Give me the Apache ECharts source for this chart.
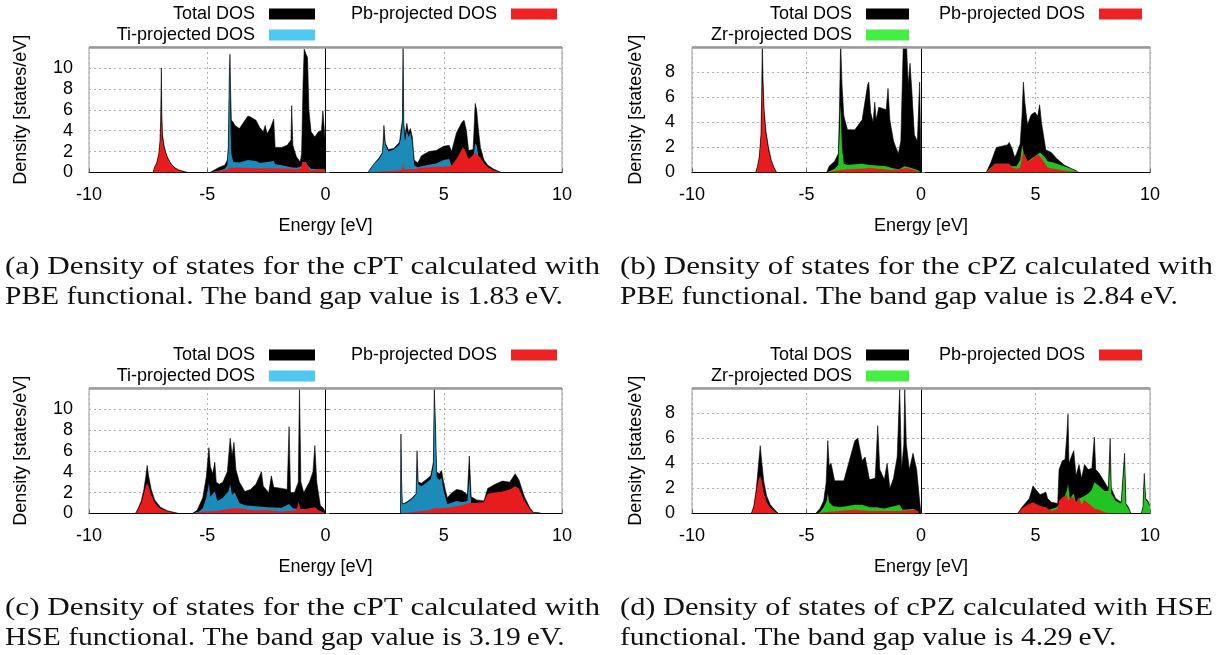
<!doctype html>
<html>
<head>
<meta charset="utf-8">
<script src="https://cdn.jsdelivr.net/npm/echarts@6/dist/echarts.min.js"></script>
<style>
    html, body {margin: 0; padding: 0; background: #fff;}
    #main {width: 1220px; height: 655px;}
</style>
</head>
<body>
<div id="main"></div>
<script>
    // energy [eV] / density [states/eV]
    var xTicks = [-10, -5, 0, 5, 10];

    // (a) cPT, PBE
    var aTotal = [[-7.29,0],[-7.23,0.5],[-7.14,0.9],[-7.05,1.8],[-7.00,3.0],[-6.97,5.0],[-6.95,8.5],[-6.94,10.0],[-6.92,5.5],[-6.89,3.6],[-6.83,2.6],[-6.75,1.9],[-6.67,1.4],[-6.52,0.8],[-6.36,0.45],[-6.21,0.25],[-5.97,0.1],[-5.82,0],
        [-4.88,0],[-4.73,0.2],[-4.49,0.5],[-4.26,0.7],[-4.15,1.2],[-4.11,2.5],[-4.07,9.0],[-4.04,11.3],[-4.01,7.5],[-3.98,5.0],[-3.90,4.8],[-3.83,4.5],[-3.64,4.2],[-3.28,5.4],[-3.17,5.3],[-2.94,5.0],[-2.78,4.3],[-2.63,3.9],[-2.55,4.5],[-2.47,3.7],[-2.32,4.3],[-2.19,5.1],[-2.13,2.4],[-1.85,2.4],[-1.62,2.6],[-1.46,3.1],[-1.43,6.4],[-1.38,2.6],[-1.23,1.5],[-1.07,1.0],[-1.01,1.8],[-0.95,8.5],[-0.90,11.8],[-0.82,11.3],[-0.76,11.0],[-0.70,5.9],[-0.61,3.9],[-0.45,3.4],[-0.30,3.9],[-0.17,4.0],[-0.11,5.9],[-0.05,5.8],[-0.02,3.2],[0,0],
        [1.80,0],[1.88,0.3],[2.04,0.8],[2.27,1.4],[2.40,1.9],[2.44,3.0],[2.47,4.5],[2.53,2.8],[2.66,2.2],[2.89,2.3],[3.13,2.9],[3.20,4.2],[3.25,5.0],[3.28,12],[3.31,4.8],[3.36,3.5],[3.44,4.7],[3.51,3.8],[3.59,4.2],[3.67,3.4],[3.72,2.0],[3.75,1.2],[3.90,0.9],[4.06,1.6],[4.37,2.0],[4.68,2.1],[4.99,2.5],[5.23,2.6],[5.33,2.0],[5.54,3.8],[5.77,4.8],[5.86,5.0],[5.96,4.0],[6.05,2.1],[6.24,2.2],[6.28,4.0],[6.33,6.6],[6.39,6.0],[6.47,4.0],[6.55,2.4],[6.70,1.2],[6.86,0.7],[7.09,0.35],[7.33,0.1],[7.45,0]];
    var aTi = [[-4.88,0],[-4.49,0.2],[-4.26,0.35],[-4.15,0.7],[-4.11,2.0],[-4.07,9.0],[-4.04,10.5],[-4.01,4.0],[-3.98,1.8],[-3.90,1.0],[-3.64,0.95],[-3.28,1.2],[-2.94,1.1],[-2.78,0.9],[-2.47,1.0],[-2.19,1.1],[-2.13,0.8],[-1.85,0.7],[-1.46,0.5],[-1.23,0.45],[-1.01,0.6],[-0.90,0.8],[-0.76,0.7],[-0.61,0.35],[-0.30,0.3],[-0.05,0.3],[0,0],
        [1.80,0],[1.88,0.3],[2.04,0.8],[2.27,1.3],[2.40,1.8],[2.44,2.5],[2.47,3.5],[2.53,2.6],[2.66,2.0],[2.89,2.2],[3.13,2.7],[3.20,3.5],[3.25,4.5],[3.28,12],[3.31,4.2],[3.36,3.0],[3.44,4.0],[3.51,3.4],[3.59,3.8],[3.67,2.8],[3.72,1.5],[3.75,0.7],[3.90,0.5],[4.06,0.6],[4.37,0.75],[4.68,0.85],[4.99,1.2],[5.23,1.3],[5.33,0.6],[5.54,0.6],[5.77,0.8],[6.05,0.9],[6.24,1.2],[6.33,2.8],[6.39,2.6],[6.47,1.5],[6.55,0.9],[6.70,0.5],[7.09,0.15],[7.45,0]];
    var aPb = [[-7.29,0],[-7.23,0.5],[-7.14,0.9],[-7.05,1.7],[-7.00,2.7],[-6.97,4.0],[-6.95,4.5],[-6.94,6.6],[-6.92,4.5],[-6.89,3.2],[-6.83,2.4],[-6.75,1.8],[-6.67,1.3],[-6.52,0.75],[-6.36,0.4],[-6.21,0.2],[-5.97,0.08],[-5.82,0],
        [-4.88,0],[-4.49,0.15],[-4.15,0.3],[-4.01,0.45],[-3.56,0.45],[-2.78,0.4],[-2.16,0.4],[-1.54,0.35],[-1.23,0.3],[-1.04,0.4],[-0.98,1.0],[-0.82,1.0],[-0.73,0.5],[-0.61,0.2],[-0.14,0.35],[0,0],
        [1.80,0],[2.35,0.1],[3.13,0.2],[3.25,0.3],[3.28,1.0],[3.31,0.3],[3.75,0.3],[4.06,0.45],[4.37,0.5],[4.68,0.55],[4.99,0.55],[5.23,0.6],[5.38,0.8],[5.54,1.3],[5.69,1.9],[5.80,2.4],[5.89,2.2],[5.99,1.6],[6.05,1.3],[6.21,1.6],[6.31,1.9],[6.39,1.8],[6.47,1.6],[6.55,1.4],[6.70,0.9],[6.86,0.5],[7.09,0.25],[7.33,0.08],[7.45,0]];

    // (b) cPZ, PBE
    var bTotal = [[-7.22,0],[-7.14,0.5],[-7.06,1.3],[-6.99,3.0],[-6.96,6.0],[-6.93,10.5],[-6.90,7.5],[-6.85,5.0],[-6.77,3.3],[-6.66,2.0],[-6.54,1.0],[-6.42,0.4],[-6.30,0],
        [-4.12,0],[-4.01,0.5],[-3.77,0.9],[-3.61,1.5],[-3.56,5.0],[-3.51,10.5],[-3.45,7.0],[-3.37,4.5],[-3.21,3.4],[-2.89,3.4],[-2.57,4.2],[-2.33,7.0],[-2.28,7.2],[-2.20,4.8],[-2.09,4.0],[-2.02,5.6],[-1.96,4.2],[-1.84,5.2],[-1.68,5.1],[-1.52,5.0],[-1.44,6.7],[-1.36,4.2],[-1.20,2.5],[-0.99,1.5],[-0.88,2.5],[-0.77,10.5],[-0.64,10.5],[-0.56,7.0],[-0.48,8.7],[-0.40,6.5],[-0.29,3.0],[-0.16,2.5],[-0.06,7.2],[-0.02,3.0],[0,0],
        [2.85,0],[3.05,0.8],[3.29,2.0],[3.53,2.1],[3.77,2.2],[3.85,2.4],[3.98,1.9],[4.09,1.2],[4.17,1.5],[4.33,2.3],[4.41,4.5],[4.47,7.2],[4.54,5.5],[4.65,3.8],[4.81,4.6],[4.97,4.8],[5.10,4.5],[5.18,5.4],[5.26,4.0],[5.45,1.8],[5.69,1.6],[5.93,1.1],[6.25,0.6],[6.58,0.3],[6.82,0.1],[6.90,0]];
    var bZr = [[-4.12,0],[-3.77,0.3],[-3.61,0.6],[-3.56,3.0],[-3.51,5.5],[-3.45,2.0],[-3.37,0.7],[-3.21,0.6],[-2.89,0.65],[-2.57,0.7],[-2.25,0.6],[-1.92,0.55],[-1.52,0.5],[-1.28,0.35],[-0.96,0.25],[-0.72,0.5],[-0.48,0.4],[-0.16,0.2],[0,0],
        [2.85,0],[3.05,0.4],[3.29,0.7],[3.77,0.7],[3.98,0.5],[4.17,0.5],[4.33,1.0],[4.42,2.2],[4.49,1.5],[4.65,0.9],[4.97,1.3],[5.20,1.6],[5.37,1.3],[5.53,0.9],[5.77,0.8],[6.25,0.5],[6.58,0.3],[6.82,0.1],[6.90,0]];
    var bPb = [[-7.22,0],[-7.14,0.45],[-7.06,1.2],[-6.99,2.8],[-6.96,5.0],[-6.93,7.0],[-6.90,7.4],[-6.85,4.6],[-6.77,3.0],[-6.66,1.8],[-6.54,0.9],[-6.42,0.35],[-6.30,0],
        [-4.12,0],[-3.85,0.1],[-3.53,0.2],[-3.21,0.25],[-2.57,0.3],[-2.25,0.35],[-1.92,0.3],[-1.28,0.2],[-0.80,0.3],[-0.64,0.35],[-0.40,0.25],[-0.16,0.1],[0,0],
        [2.85,0],[3.05,0.3],[3.21,0.7],[3.85,0.7],[3.98,0.4],[4.17,0.3],[4.33,0.4],[4.46,1.7],[4.57,1.2],[4.65,0.9],[4.81,1.0],[4.97,1.3],[5.13,1.4],[5.20,1.5],[5.32,1.0],[5.53,0.4],[5.77,0.3],[6.25,0.15],[6.82,0.03],[6.90,0]];

    // (c) cPT, HSE
    var cTotal = [[-8.04,0],[-7.92,0.5],[-7.79,1.2],[-7.68,2.3],[-7.60,3.5],[-7.54,4.6],[-7.48,3.6],[-7.37,2.3],[-7.22,1.3],[-6.98,0.6],[-6.67,0.25],[-6.28,0.05],[-6.21,0],
        [-5.63,0],[-5.43,0.3],[-5.19,1.5],[-5.04,3.5],[-4.93,6.3],[-4.87,4.5],[-4.77,3.8],[-4.68,4.9],[-4.62,3.0],[-4.49,2.8],[-4.34,3.0],[-4.15,4.0],[-4.03,7.2],[-3.95,5.5],[-3.87,6.8],[-3.79,4.2],[-3.64,3.0],[-3.41,2.1],[-3.17,2.3],[-2.94,2.8],[-2.71,4.0],[-2.63,2.6],[-2.40,2.0],[-2.29,3.6],[-2.19,2.5],[-1.85,2.4],[-1.62,2.3],[-1.54,8.3],[-1.48,2.0],[-1.31,2.0],[-1.15,3.0],[-1.10,12],[-1.04,3.0],[-0.92,2.0],[-0.68,3.0],[-0.53,4.0],[-0.45,6.5],[-0.37,3.0],[-0.22,0.8],[-0.06,0.4],[0,0],
        [3.17,0],[3.19,7.6],[3.22,3.0],[3.25,0.9],[3.44,1.1],[3.67,1.5],[3.83,1.9],[3.87,6.0],[3.92,3.0],[4.06,2.9],[4.29,3.3],[4.45,3.6],[4.56,4.9],[4.60,12],[4.65,8.5],[4.70,4.0],[4.81,3.8],[4.91,4.1],[4.99,3.0],[5.15,1.5],[5.30,1.9],[5.54,2.3],[5.77,2.2],[6.00,1.8],[6.08,5.5],[6.16,1.6],[6.39,1.3],[6.70,1.2],[6.86,2.4],[7.17,2.8],[7.48,3.1],[7.79,3.0],[8.02,3.8],[8.18,3.2],[8.41,1.6],[8.65,0.5],[8.80,0.1],[9.04,0.1],[9.11,0]];
    var cTi = [[-5.63,0],[-5.35,0.2],[-5.19,0.5],[-5.04,1.5],[-4.93,2.9],[-4.87,1.6],[-4.68,2.1],[-4.57,1.2],[-4.34,1.5],[-4.11,2.1],[-4.03,2.8],[-3.95,1.8],[-3.84,2.0],[-3.64,1.0],[-3.41,0.8],[-2.94,0.7],[-2.47,0.6],[-1.85,0.55],[-1.54,0.9],[-1.38,0.5],[-0.92,0.4],[-0.45,0.5],[-0.22,0.2],[0,0],
        [3.17,0],[3.19,7.6],[3.22,3.0],[3.25,0.9],[3.44,1.0],[3.67,1.4],[3.83,1.8],[3.87,4.5],[3.92,2.8],[4.06,2.6],[4.29,3.0],[4.45,3.3],[4.56,4.5],[4.60,12],[4.65,8.5],[4.70,3.5],[4.81,3.2],[4.91,3.4],[4.99,2.2],[5.15,0.9],[5.30,1.0],[5.54,1.2],[5.77,1.1],[6.00,1.2],[6.08,3.5],[6.16,0.9],[6.39,0.6],[6.70,0.4],[7.17,0.5],[7.79,0.5],[8.41,0.3],[8.80,0.05],[9.11,0]];
    var cPb = [[-8.04,0],[-7.92,0.4],[-7.79,1.0],[-7.68,1.9],[-7.60,2.6],[-7.54,2.9],[-7.48,2.6],[-7.37,1.8],[-7.22,1.0],[-6.98,0.45],[-6.67,0.2],[-6.28,0.03],[-6.21,0],
        [-5.63,0],[-5.19,0.2],[-4.62,0.25],[-4.03,0.45],[-3.72,0.5],[-3.09,0.3],[-2.47,0.3],[-1.85,0.2],[-1.23,0.3],[-1.14,1.1],[-1.04,0.3],[-0.68,0.5],[-0.61,0.6],[-0.45,0.6],[-0.30,0.3],[0,0],
        [3.17,0],[3.44,0.1],[3.90,0.2],[4.37,0.3],[4.60,0.5],[4.99,0.5],[5.30,0.6],[5.77,0.8],[6.08,1.0],[6.39,1.0],[6.70,1.1],[6.86,1.9],[7.17,2.0],[7.48,2.1],[7.79,2.3],[8.02,2.6],[8.18,2.4],[8.41,1.2],[8.65,0.4],[8.80,0.05],[9.11,0]];

    // (d) cPZ, HSE
    var dTotal = [[-7.41,0],[-7.30,0.6],[-7.19,2.0],[-7.09,4.0],[-7.02,5.4],[-6.96,4.2],[-6.86,2.5],[-6.74,1.4],[-6.58,0.7],[-6.34,0.2],[-6.22,0],
        [-4.60,0],[-4.41,0.4],[-4.25,1.0],[-4.14,2.5],[-4.07,5.8],[-4.01,3.8],[-3.93,4.0],[-3.77,2.6],[-3.37,2.6],[-3.13,4.2],[-2.89,5.8],[-2.76,6.0],[-2.57,4.2],[-2.44,4.5],[-2.25,2.7],[-2.00,2.8],[-1.89,7.0],[-1.80,3.5],[-1.60,2.7],[-1.48,4.0],[-1.36,2.0],[-1.20,2.8],[-1.04,4.5],[-0.93,10],[-0.85,3.5],[-0.75,5.5],[-0.71,10],[-0.64,5.5],[-0.51,3.5],[-0.35,4.8],[-0.19,3.5],[-0.06,1.0],[0,0],
        [4.22,0],[4.41,0.5],[4.73,1.2],[4.89,2.2],[4.97,2.0],[5.20,1.5],[5.45,1.7],[5.53,1.2],[5.69,0.9],[5.97,0.8],[6.03,3.5],[6.17,4.2],[6.29,4.3],[6.37,6.3],[6.42,7.9],[6.46,4.0],[6.58,4.6],[6.67,5.0],[6.77,3.0],[6.90,3.9],[7.01,2.8],[7.14,3.9],[7.30,3.5],[7.46,3.6],[7.57,6.1],[7.63,3.5],[7.78,3.2],[8.02,2.5],[8.18,2.0],[8.26,6.0],[8.31,2.0],[8.50,1.2],[8.74,0.9],[8.89,4.8],[8.95,0.8],[9.06,0.5],[9.17,0],[9.62,0],[9.69,0.5],[9.75,3.2],[9.81,1.2],[9.91,1.0],[9.97,0.7],[10,0.6]];
    var dZr = [[-4.60,0],[-4.41,0.1],[-4.25,0.5],[-4.12,1.0],[-4.07,1.6],[-4.01,0.9],[-3.85,0.6],[-3.53,0.5],[-3.21,0.6],[-2.89,0.7],[-2.57,0.7],[-2.25,0.5],[-1.92,0.5],[-1.60,0.4],[-0.93,0.7],[-0.80,0.3],[-0.32,0.35],[-0.08,0.1],[0,0],
        [4.22,0],[4.41,0.1],[4.89,0.3],[5.20,0.35],[5.61,0.3],[5.93,0.5],[6.17,1.0],[6.37,1.8],[6.42,2.4],[6.50,1.2],[6.67,1.6],[6.77,0.8],[6.90,1.2],[7.14,1.4],[7.30,1.6],[7.46,1.9],[7.57,2.5],[7.78,2.2],[8.02,1.8],[8.18,1.8],[8.26,4.5],[8.31,1.6],[8.50,1.0],[8.74,0.8],[8.89,4.3],[8.95,0.7],[9.06,0.4],[9.17,0],[9.62,0],[9.69,0.4],[9.75,3.0],[9.81,1.1],[9.91,0.9],[10,0.5]];
    var dPb = [[-7.41,0],[-7.30,0.5],[-7.19,1.7],[-7.09,2.7],[-7.02,3.0],[-6.96,2.6],[-6.86,1.6],[-6.74,0.9],[-6.58,0.45],[-6.34,0.1],[-6.22,0],
        [-4.60,0],[-4.25,0.1],[-3.85,0.15],[-3.21,0.25],[-2.89,0.3],[-2.25,0.2],[-1.60,0.2],[-0.96,0.2],[-0.48,0.25],[-0.24,0.3],[-0.08,0.1],[0,0],
        [4.22,0],[4.41,0.4],[4.65,0.7],[4.89,0.9],[5.20,0.6],[5.45,0.5],[5.69,0.2],[5.97,0.4],[6.03,1.0],[6.17,1.3],[6.37,1.5],[6.42,1.0],[6.58,1.4],[6.67,1.2],[6.77,0.9],[6.90,1.3],[7.01,0.7],[7.14,1.1],[7.30,0.8],[7.46,0.6],[7.57,0.4],[7.78,0.3],[8.02,0.1],[8.18,0.05],[8.40,0]];

    var yMaxes = [12, 10, 12, 10];

    var captionA = ['(a) Density of states for the cPT calculated with', 'PBE functional. The band gap value is 1.83\u2009eV.'];
    var captionB = ['(b) Density of states for the cPZ calculated with', 'PBE functional. The band gap value is 2.84\u2009eV.'];
    var captionC = ['(c) Density of states for the cPT calculated with', 'HSE functional. The band gap value is 3.19\u2009eV.'];
    var captionD = ['(d) Density of states of cPZ calculated with HSE', 'functional. The band gap value is 4.29\u2009eV.'];

    var SANS = '"Liberation Sans", Arial, sans-serif';
    var SERIF = 'Liberation Serif';
    var BLACK = '#000000', BLUE = '#1b8cba', RED = '#e81c1c', GREEN = '#22c322';
    var BLUE_KEY = '#4fc8f2', RED_KEY = '#ee2222', GREEN_KEY = '#44ee44';

    // panel frames: left, right(px from right edge), top
    var panels = [
        {left: 89, right: 658, top: 47, gap: 59, lab: 16},
        {left: 692, right: 70, top: 47, gap: 47, lab: 17},
        {left: 89, right: 658, top: 388, gap: 59, lab: 16},
        {left: 692, right: 70, top: 388, gap: 47, lab: 17}
    ];

    // break the area between bands so no coloured line runs along the gap
    function bands(arr) {
        var out = [];
        arr.forEach(function (p, i) {
            if (i > 0 && p[1] === 0 && arr[i - 1][1] === 0) out.push([(p[0] + arr[i - 1][0]) / 2, '-']);
            out.push(p);
        });
        return out;
    }

    var dom = document.getElementById('main');
    var myChart = echarts.init(dom, null, {renderer: 'canvas'});

    var grids = [], xAxes = [], yAxes = [];
    panels.forEach(function (p, i) {
        grids.push({left: p.left, right: p.right, top: p.top, height: 125.5,
            show: true, borderColor: '#9a9a9a', borderWidth: 1, containLabel: false});
        xAxes.push({type: 'value', gridIndex: i, min: -10, max: 10, interval: 5,
            name: 'Energy [eV]', nameLocation: 'middle', nameGap: 45,
            nameTextStyle: {fontFamily: SANS, fontSize: 18, color: '#000'},
            axisLine: {lineStyle: {color: '#000', width: 1}},
            axisTick: {inside: true, length: 4, lineStyle: {color: '#666'}},
            axisLabel: {fontFamily: SANS, fontSize: 18, color: '#000', margin: 14},
            splitLine: {show: true, lineStyle: {color: '#b0b0b0', type: [2, 3], width: 1}}
        });
        yAxes.push({type: 'value', gridIndex: i, min: 0, max: yMaxes[i], interval: 2,
            name: 'Density [states/eV]', nameLocation: 'middle', nameGap: p.gap,
            nameTextStyle: {fontFamily: SANS, fontSize: 18, color: '#000'},
            axisLine: {show: true, lineStyle: {color: '#777'}},
            axisTick: {inside: true, length: 4, lineStyle: {color: '#777'}},
            axisLabel: {fontFamily: SANS, fontSize: 18, color: '#000', margin: p.lab, showMaxLabel: false},
            splitLine: {show: true, lineStyle: {color: '#b0b0b0', type: [2, 3], width: 1}}
        });
    });

    function area(name, data, color, idx, extra) {
        var s = {type: 'line', name: name, data: bands(data), xAxisIndex: idx, yAxisIndex: idx,
            symbol: 'none', showSymbol: false, silent: true, clip: true, connectNulls: false,
            lineStyle: {width: color === BLACK ? 0.6 : 0, color: color}, itemStyle: {color: color},
            areaStyle: {color: color, opacity: 1}};
        if (extra) {
            s.markLine = {silent: true, symbol: 'none', label: {show: false}, animation: false,
                data: [
                    {xAxis: 0, lineStyle: {color: '#000', width: 1, type: 'solid'}},
                    {yAxis: yMaxes[idx], lineStyle: {color: '#9a9a9a', width: 2.5, type: 'solid'}}
                ]};
        }
        return s;
    }

    var series = [
        area('Total DOS', aTotal, BLACK, 0), area('Ti-projected DOS', aTi, BLUE, 0), area('Pb-projected DOS', aPb, RED, 0, true),
        area('Total DOS', bTotal, BLACK, 1), area('Zr-projected DOS', bZr, GREEN, 1), area('Pb-projected DOS', bPb, RED, 1, true),
        area('Total DOS', cTotal, BLACK, 2), area('Ti-projected DOS', cTi, BLUE, 2), area('Pb-projected DOS', cPb, RED, 2, true),
        area('Total DOS', dTotal, BLACK, 3), area('Zr-projected DOS', dZr, GREEN, 3), area('Pb-projected DOS', dPb, RED, 3, true)
    ];

    function key(name, color, right, top, w) {
        return {right: right, top: top, padding: 0, align: 'right', orient: 'horizontal',
            itemWidth: w, itemHeight: 11, icon: 'rect', selectedMode: false,
            textStyle: {fontFamily: SANS, fontSize: 18, color: '#000', padding: [0, 9, 0, 0]},
            data: [{name: name, icon: 'rect', itemStyle: {color: color, borderWidth: 0}}]};
    }
    var legends = [
        key('Total DOS', BLACK, 905, 5, 46), key('Pb-projected DOS', RED_KEY, 663, 5, 46), key('Ti-projected DOS', BLUE_KEY, 905, 26, 46),
        key('Total DOS', BLACK, 311, 5, 43), key('Pb-projected DOS', RED_KEY, 78, 5, 43), key('Zr-projected DOS', GREEN_KEY, 311, 26, 43),
        key('Total DOS', BLACK, 905, 346, 46), key('Pb-projected DOS', RED_KEY, 663, 346, 46), key('Ti-projected DOS', BLUE_KEY, 905, 367, 46),
        key('Total DOS', BLACK, 311, 346, 43), key('Pb-projected DOS', RED_KEY, 78, 346, 43), key('Zr-projected DOS', GREEN_KEY, 311, 367, 43)
    ];

    // captions: first line justified to the column, second line at natural width
    var CAP_SIZE = 25;
    var ctx = document.createElement('canvas').getContext('2d');
    ctx.font = CAP_SIZE + 'px "' + SERIF + '"';
    function tw(t) { return ctx.measureText(t).width; }
    var k2 = 558 / tw(captionA[1]);
    var graphics = [];
    function capText(t, x, y, sx) {
        return {type: 'text', x: x, y: y, scaleX: sx, silent: true,
            style: {text: t, fontFamily: SERIF, fontSize: CAP_SIZE, fill: '#111', align: 'left', verticalAlign: 'middle'}};
    }
    function caption(lines, x, y, full) {
        graphics.push(capText(lines[0], x, y, full / tw(lines[0])));
        graphics.push(capText(lines[1], x, y + 30, k2));
    }
    caption(captionA, 5, 267, 595);
    caption(captionB, 620, 267, 593);
    caption(captionC, 5, 608, 595);
    caption(captionD, 620, 608, 593);

    var option = {
        animation: false,
        backgroundColor: '#fff',
        grid: grids,
        xAxis: xAxes,
        yAxis: yAxes,
        legend: legends,
        series: series,
        graphic: graphics
    };
    myChart.setOption(option, true);
</script>
</body>
</html>
